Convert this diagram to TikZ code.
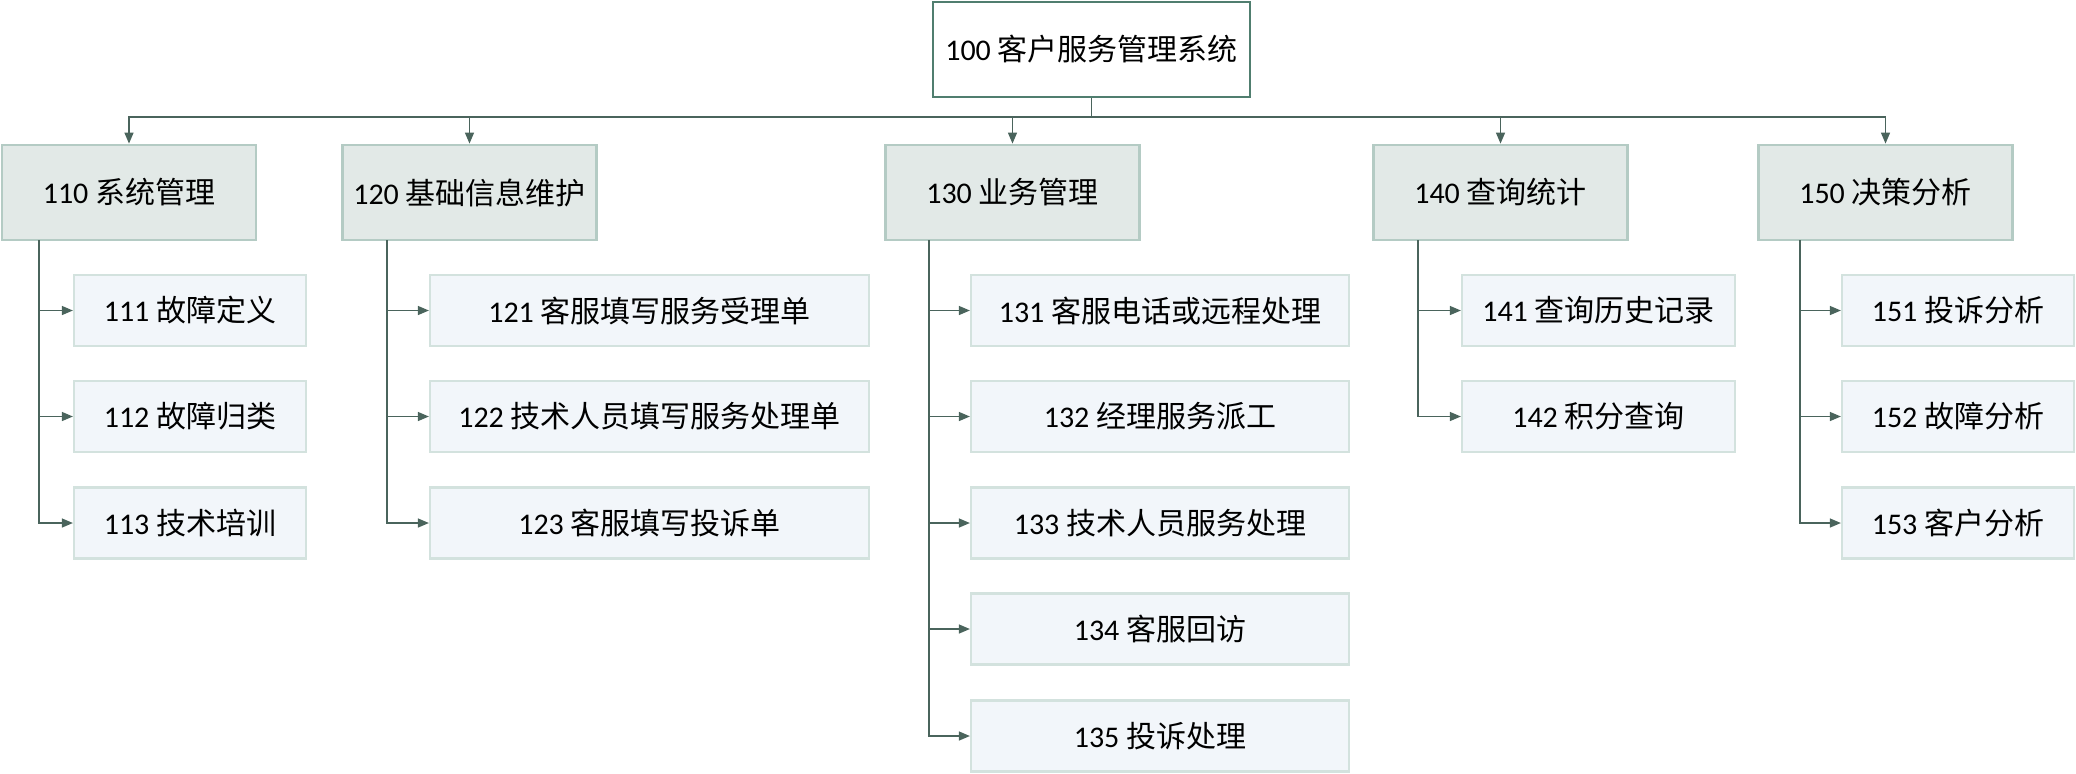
\documentclass[tikz,border=0pt]{standalone}
\usepackage{fontspec}
\setmainfont{Carlito}
\newfontfamily\cjk{Noto Sans CJK SC}
\usetikzlibrary{arrows.meta}
\definecolor{linec}{HTML}{4A645C}
\definecolor{topborder}{HTML}{507E6F}
\definecolor{lvfill}{HTML}{E2E9E7}
\definecolor{lvborder}{HTML}{B4CBC4}
\definecolor{kidfill}{HTML}{F2F6FA}
\definecolor{kidborder}{HTML}{D3E2DE}
\tikzset{
  rootbox/.style={draw=topborder, line width=1.4pt, fill=white, inner sep=0pt,
    minimum width=158.5pt, minimum height=47.5pt, font=\fontsize{15}{17}\selectfont},
  lvbox/.style={draw=lvborder, line width=1.4pt, fill=lvfill, inner sep=0pt,
    minimum width=127pt, minimum height=47.5pt, font=\fontsize{15}{17}\selectfont},
  kidbox/.style={draw=kidborder, line width=1.1pt, fill=kidfill, inner sep=0pt,
    minimum height=35.5pt, font=\fontsize{15}{17}\selectfont},
  conn/.style={draw=linec, line width=0.65pt},
  arr/.style={conn, -{Triangle[length=5.5pt,width=4.5pt]}}
}
\begin{document}
\begin{tikzpicture}[x=0.5pt,y=-0.5pt]
\useasboundingbox (0,0) rectangle (2076,773);

% root
\node[rootbox] (root) at (1091.5,49.5) {100 {\cjk 客户服务管理系统}};

% first level
\node[lvbox] (n110) at (129,192.5)   {110 {\cjk 系统管理}};
\node[lvbox] (n120) at (469.5,192.5) {120 {\cjk 基础信息维护}};
\node[lvbox] (n130) at (1012.5,192.5){130 {\cjk 业务管理}};
\node[lvbox] (n140) at (1500.5,192.5){140 {\cjk 查询统计}};
\node[lvbox] (n150) at (1885.5,192.5){150 {\cjk 决策分析}};

% second level
\tikzset{
  k110/.style={kidbox, minimum width=116pt},
  k120/.style={kidbox, minimum width=219.5pt},
  k130/.style={kidbox, minimum width=189pt},
  k140/.style={kidbox, minimum width=136.5pt},
  k150/.style={kidbox, minimum width=116pt}
}
\node[k110] (n111) at (190,310.5) {111 {\cjk 故障定义}};
\node[k110] (n112) at (190,416.5) {112 {\cjk 故障归类}};
\node[k110] (n113) at (190,523)   {113 {\cjk 技术培训}};

\node[k120] (n121) at (649.5,310.5) {121 {\cjk 客服填写服务受理单}};
\node[k120] (n122) at (649.5,416.5) {122 {\cjk 技术人员填写服务处理单}};
\node[k120] (n123) at (649.5,523)   {123 {\cjk 客服填写投诉单}};

\node[k130] (n131) at (1160,310.5) {131 {\cjk 客服电话或远程处理}};
\node[k130] (n132) at (1160,416.5) {132 {\cjk 经理服务派工}};
\node[k130] (n133) at (1160,523)   {133 {\cjk 技术人员服务处理}};
\node[k130] (n134) at (1160,629)   {134 {\cjk 客服回访}};
\node[k130] (n135) at (1160,736)   {135 {\cjk 投诉处理}};

\node[k140] (n141) at (1598.5,310.5) {141 {\cjk 查询历史记录}};
\node[k140] (n142) at (1598.5,416.5) {142 {\cjk 积分查询}};

\node[k150] (n151) at (1958,310.5) {151 {\cjk 投诉分析}};
\node[k150] (n152) at (1958,416.5) {152 {\cjk 故障分析}};
\node[k150] (n153) at (1958,523)   {153 {\cjk 客户分析}};

% root to first level
\coordinate (bus) at (1091.5,117);
\foreach \n in {n110,n120,n130,n140,n150}
  \draw[arr] (root.south) -- (bus) -| (\n.north);

% stems below first-level boxes
\coordinate (s110) at (39,240);
\coordinate (s120) at (387,240);
\coordinate (s130) at (929,240);
\coordinate (s140) at (1418,240);
\coordinate (s150) at (1800,240);

\foreach \k in {n111,n112,n113} \draw[arr] (s110) |- (\k.west);
\foreach \k in {n121,n122,n123} \draw[arr] (s120) |- (\k.west);
\foreach \k in {n131,n132,n133,n134,n135} \draw[arr] (s130) |- (\k.west);
\foreach \k in {n141,n142} \draw[arr] (s140) |- (\k.west);
\foreach \k in {n151,n152,n153} \draw[arr] (s150) |- (\k.west);
\end{tikzpicture}
\end{document}
